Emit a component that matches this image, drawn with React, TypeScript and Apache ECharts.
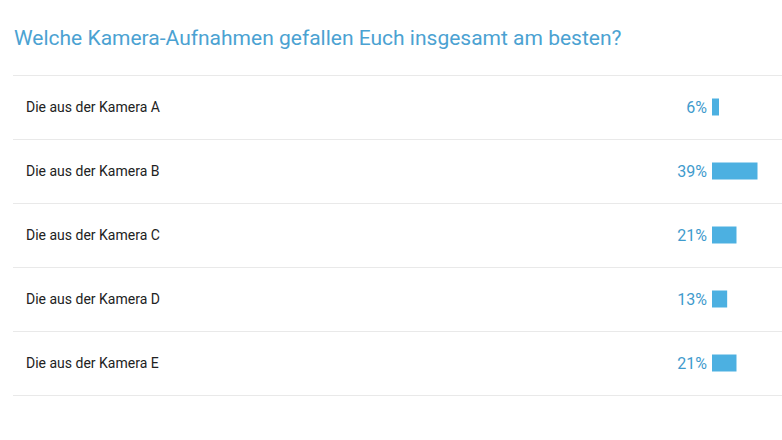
import React, { useEffect, useRef } from "react";
import * as echarts from "echarts";

const title = "Welche Kamera-Aufnahmen gefallen Euch insgesamt am besten?";
const categories = [
  "Die aus der Kamera A",
  "Die aus der Kamera B",
  "Die aus der Kamera C",
  "Die aus der Kamera D",
  "Die aus der Kamera E",
];
const percents = [6, 39, 21, 13, 21];

const App: React.FC = () => {
  const chartRef = useRef<HTMLDivElement>(null);

  useEffect(() => {
    document.body.style.margin = "0";
    let chart: echarts.ECharts | null = null;

    if (chartRef.current) {
      chart = echarts.init(chartRef.current, null, { renderer: "svg" });
      chart.setOption({
        animation: false,
        backgroundColor: "#ffffff",
        textStyle: { fontFamily: "Roboto" },
        title: {
          text: title,
          left: 9,
          top: 22,
          textStyle: {
            fontFamily: "Roboto",
            fontSize: 21,
            fontWeight: "normal",
            color: "#4ba2d2",
          },
        },
        grid: [
          // 行和分隔线
          { left: 13, right: 0, top: 75, height: 320 },
          // 条形：约 1.17px 对应 1%
          { left: 712, width: 70, top: 75, height: 320 },
        ],
        xAxis: [
          { gridIndex: 0, type: "value", show: false },
          { gridIndex: 1, type: "value", min: 0, max: 60, show: false },
        ],
        yAxis: [
          {
            gridIndex: 0,
            type: "category",
            inverse: true,
            data: categories,
            axisLine: { show: false },
            axisTick: { show: false },
            axisLabel: {
              inside: true,
              margin: 13,
              align: "left",
              fontFamily: "Roboto",
              fontSize: 14,
              color: "#222222",
            },
            splitLine: {
              show: true,
              interval: 0,
              lineStyle: { color: "#e9e9e9", width: 1 },
            },
          },
          {
            gridIndex: 1,
            type: "category",
            inverse: true,
            data: categories,
            show: false,
          },
        ],
        series: [
          {
            type: "bar",
            xAxisIndex: 1,
            yAxisIndex: 1,
            data: percents,
            barWidth: 17,
            itemStyle: { color: "#4cb0e1" },
            label: {
              show: true,
              position: "left",
              distance: 5,
              formatter: "{c}%",
              fontFamily: "Roboto",
              fontSize: 16,
              color: "#3f9bcd",
            },
          },
        ],
      });
    }

    return () => {
      chart?.dispose();
    };
  }, []);

  return <div ref={chartRef} style={{ width: "782px", height: "440px" }}></div>;
};

export default App;
